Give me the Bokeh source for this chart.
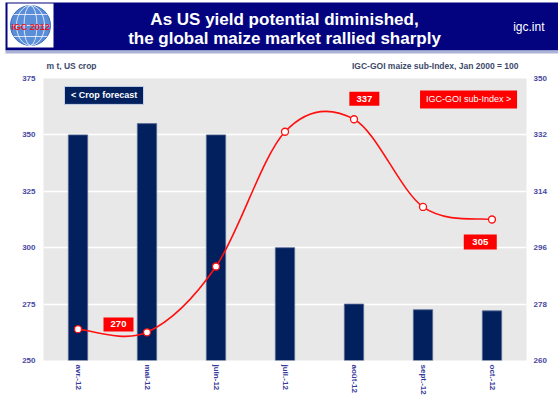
import numpy as np
from bokeh.plotting import figure
from bokeh.models import Range1d, LinearAxis, FixedTicker
from bokeh.core.properties import value
from bokeh.embed import file_html
from bokeh.resources import INLINE

# ---------------- data ----------------
months = ["avr.-12", "mai-12", "juin-12", "juil.-12", "août-12", "sept.-12", "oct.-12"]
crop = [350, 355, 350, 300, 275, 272.5, 272]          # m t, US crop (left axis)
goi = [270, 269, 290, 333, 337, 309, 305]              # IGC-GOI maize sub-index (right axis)
left_ticks = [250, 275, 300, 325, 350, 375]
right_ticks = [260, 278, 296, 314, 332, 350]
title_lines = ["As US yield potential diminished,", "the global maize market rallied sharply"]
left_title = "m t, US crop"
right_title = "IGC-GOI maize sub-Index, Jan 2000 = 100"
crop_note = "< Crop forecast"
goi_note = "IGC-GOI sub-Index >"

FONT = value("Liberation Sans")
NAVY = "#03037f"
W = 558

# ---------------- header figure ----------------
H1 = 70
hdr = figure(width=W, height=H1, x_range=Range1d(0, W), y_range=Range1d(H1, 0),
             output_backend="svg", toolbar_location=None, title_location=None,
             x_axis_location=None, y_axis_location=None,
             min_border_left=0, min_border_right=0, min_border_top=0, min_border_bottom=0,
             outline_line_color=None, background_fill_color="white",
             border_fill_color="white")
hdr.grid.visible = False
hdr.quad(left=5, right=W, top=2, bottom=50, fill_color=NAVY, line_color=None)
hdr.quad(left=5, right=W, top=50, bottom=53, fill_color="#aab2d6", line_color=None)
# logo
hdr.quad(left=7, right=53, top=3, bottom=47, fill_color="white", line_color=None)
hdr.circle(x=30, y=25, radius=20, fill_color="#5b8ed8", line_color="#3a6cc0")
hdr.ellipse(x=[30, 30], y=[25, 25], width=[13, 28], height=[40, 40],
            fill_color=None, line_color="white", line_alpha=0.75, line_width=1)
hdr.segment(x0=[13, 11, 13], y0=[14, 25, 36], x1=[47, 49, 47], y1=[14, 25, 36],
            line_color="white", line_alpha=0.75, line_width=1)
hdr.text(x=[30], y=[26], text=["IGC 2012"], text_align="center", text_baseline="middle",
         text_color="#e8141c", text_font=FONT, text_font_style="bold", text_font_size="9px")
# titles
hdr.text(x=[284, 284], y=[19, 38], text=title_lines, text_align="center",
         text_baseline="alphabetic", text_color="white", text_font=FONT,
         text_font_style="bold", text_font_size="17px")
hdr.text(x=[544], y=[26], text=["igc.int"], text_align="right", text_baseline="middle",
         text_color="white", text_font=FONT, text_font_size="12px")
# axis titles
hdr.text(x=[46], y=[65], text=[left_title], text_align="left", text_baseline="middle",
         text_color="#3d4a6b", text_font=FONT, text_font_style="bold", text_font_size="8.5px")
hdr.text(x=[518], y=[65], text=[right_title], text_align="right", text_baseline="middle",
         text_color="#3d4a6b", text_font=FONT, text_font_style="bold", text_font_size="8.5px")

# ---------------- main chart ----------------
xs = list(range(1, len(months) + 1))
p = figure(width=W, height=400 - H1, x_range=Range1d(0.5, len(months) + 0.5),
           y_range=Range1d(left_ticks[0], left_ticks[-1]),
           output_backend="svg", toolbar_location=None, title_location=None,
           min_border_left=43, min_border_right=32, min_border_top=8, min_border_bottom=40,
           background_fill_color="#e8e8e8", border_fill_color="white",
           outline_line_color=None)
p.extra_y_ranges = {"idx": Range1d(right_ticks[0], right_ticks[-1])}

p.xaxis.ticker = FixedTicker(ticks=xs)
p.xaxis.major_label_overrides = {x: m for x, m in zip(xs, months)}
p.xaxis.major_label_orientation = "vertical"
p.yaxis.ticker = FixedTicker(ticks=left_ticks)

raxis = LinearAxis(y_range_name="idx", ticker=FixedTicker(ticks=right_ticks))
p.add_layout(raxis, "right")

for ax in [p.xaxis[0], p.yaxis[0], raxis]:
    ax.axis_line_color = None
    ax.major_tick_line_color = None
    ax.minor_tick_line_color = None
    ax.major_tick_out = 0
    ax.major_label_text_font = "Liberation Sans"
    ax.major_label_text_font_style = "bold"
    ax.major_label_text_font_size = "8px"
p.yaxis[0].major_label_text_color = "#4848a2"
raxis.major_label_text_color = "#4848a2"
p.xaxis[0].major_label_text_color = "#35399a"
p.yaxis[0].major_label_standoff = 8
raxis.major_label_standoff = 7
p.xaxis[0].major_label_standoff = 4

p.xgrid.visible = False
p.ygrid.ticker = FixedTicker(ticks=left_ticks)
p.ygrid.grid_line_color = "white"
p.ygrid.grid_line_width = 1.5

# bars
p.vbar(x=xs, top=crop, bottom=left_ticks[0], width=0.28,
       fill_color="#02205e", line_color="#5a6a98", line_width=0.8)

# smoothed index line (bezier segments through the data points)
n = len(goi)
bx0, by0, bx1, by1, bcx0, bcy0, bcx1, bcy1 = [], [], [], [], [], [], [], []
for i in range(n - 1):
    pm = max(i - 1, 0)
    pp = min(i + 2, n - 1)
    bx0.append(xs[i]); by0.append(goi[i]); bx1.append(xs[i + 1]); by1.append(goi[i + 1])
    bcx0.append(xs[i] + (xs[i + 1] - xs[pm]) / 6.0)
    bcy0.append(goi[i] + (goi[i + 1] - goi[pm]) / 6.0)
    bcx1.append(xs[i + 1] - (xs[pp] - xs[i]) / 6.0)
    bcy1.append(goi[i + 1] - (goi[pp] - goi[i]) / 6.0)
p.bezier(x0=bx0, y0=by0, x1=bx1, y1=by1, cx0=bcx0, cy0=bcy0, cx1=bcx1, cy1=bcy1,
         line_color="#ff1010", line_width=1.6, y_range_name="idx")
p.scatter(x=xs, y=goi, marker="circle", size=7, fill_color="white",
          line_color="#ff1010", line_width=1.3, y_range_name="idx")

# note boxes
p.rect(x=[1.377], y=[367.5], width=[79], height=[18], width_units="screen",
       height_units="screen", fill_color="#02205e", line_color="#c8d0e8", line_width=1)
p.text(x=[1.377], y=[367.5], text=[crop_note], text_align="center", text_baseline="middle",
       text_color="white", text_font=FONT, text_font_style="bold", text_font_size="9px")
p.rect(x=[6.66], y=[365.7], width=[97], height=[18], width_units="screen",
       height_units="screen", fill_color="#ff0000", line_color=None)
p.text(x=[6.66], y=[365.7], text=[goi_note], text_align="center", text_baseline="middle",
       text_color="white", text_font=FONT, text_font_size="9px")

# value boxes (right axis)
vx = [1.587, 5.15, 6.83]
vy = [271.5, 343.5, 297.8]
vt = [str(goi[0]), str(goi[4]), str(goi[6])]
p.rect(x=vx, y=vy, width=[30, 30, 33], height=[14, 14, 15], width_units="screen",
       height_units="screen", fill_color="#ff0000", line_color=None, y_range_name="idx")
p.text(x=vx, y=vy, text=vt, text_align="center", text_baseline="middle",
       text_color="white", text_font=FONT, text_font_style="bold", text_font_size="9.5px",
       y_range_name="idx")

open("out.html", "w").write(file_html([hdr, p], INLINE))
